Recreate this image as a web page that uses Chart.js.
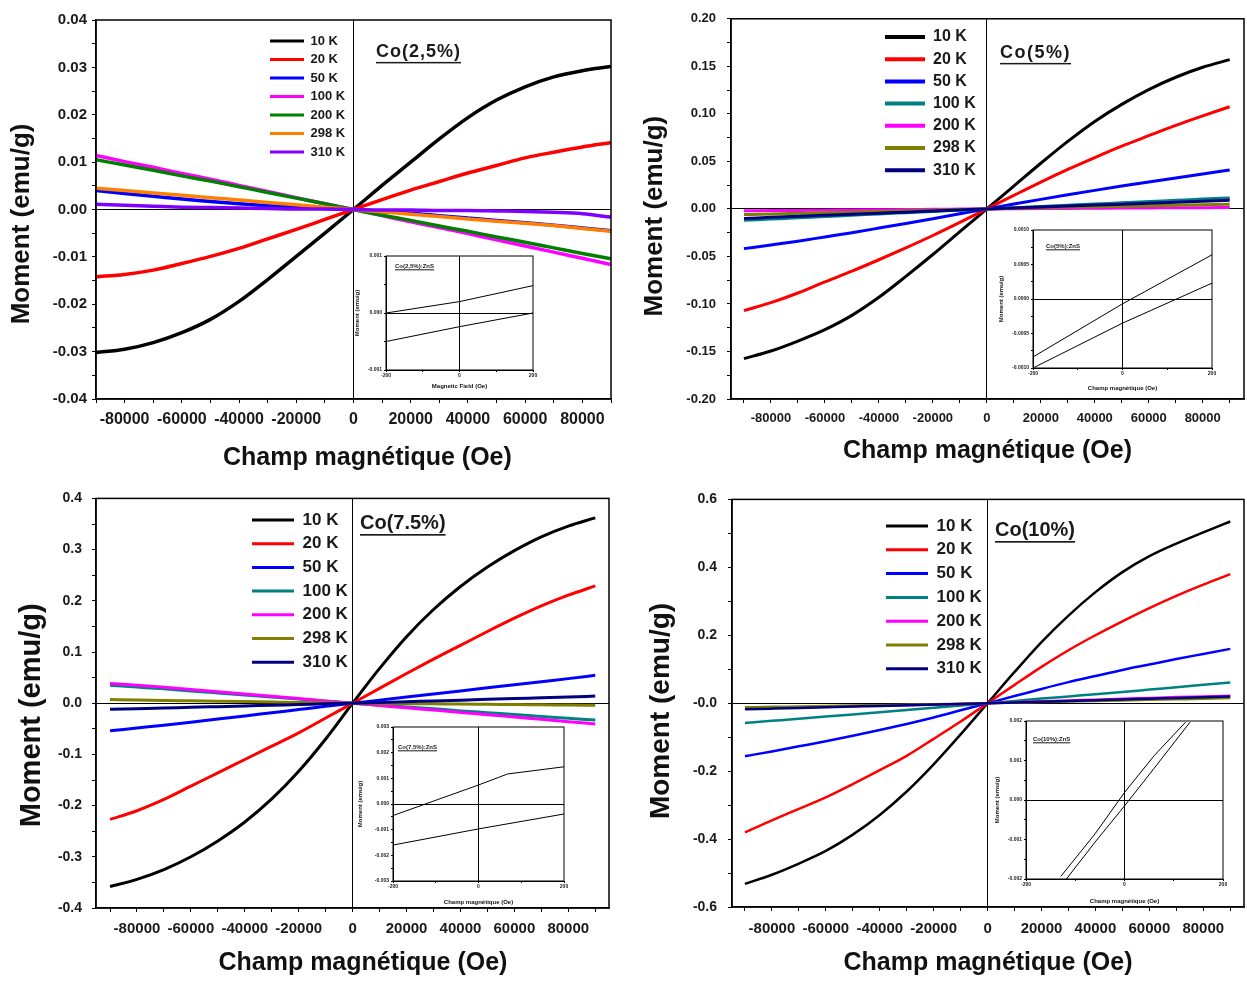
<!DOCTYPE html>
<html>
<head>
<meta charset="utf-8">
<title>Moment vs champ magnétique</title>
<script src="https://cdn.jsdelivr.net/npm/chart.js@4.4.1/dist/chart.umd.min.js"></script>
<style>
  body { margin: 0; background: #fff; }
  #fig { position: relative; width: 1247px; height: 981px; overflow: hidden; background: #fff; }
  #fig canvas { position: absolute; }
</style>
</head>
<body>
<div id="fig">
  <canvas id="p1" width="622" height="480" style="left:0;top:0"></canvas>
  <canvas id="p2" width="625" height="480" style="left:622px;top:0"></canvas>
  <canvas id="p3" width="622" height="501" style="left:0;top:480px"></canvas>
  <canvas id="p4" width="625" height="501" style="left:622px;top:480px"></canvas>
  <canvas id="i1" width="200" height="148" style="left:345px;top:248px"></canvas>
  <canvas id="i2" width="225" height="172" style="left:995px;top:224px"></canvas>
  <canvas id="i3" width="220" height="190" style="left:352px;top:720px"></canvas>
  <canvas id="i4" width="240" height="195" style="left:990px;top:715px"></canvas>
</div>
<script>
// field values where the curves were read (Oe)
const field = [-90000, -80000, -70000, -60000, -50000, -40000, -30000, -20000, -10000, 0,
  10000, 20000, 30000, 40000, 50000, 60000, 70000, 80000, 90000];
const temps = ['10 K', '20 K', '50 K', '100 K', '200 K', '298 K', '310 K'];

// Co(2,5%) : moment (emu/g), one row per temperature
const co25 = [
  [-0.0302, -0.0295, -0.0281, -0.0260, -0.0232, -0.0194, -0.0148, -0.0099, -0.0050, 0, 0.0051, 0.0100, 0.0149, 0.0194, 0.0231, 0.0259, 0.0280, 0.0293, 0.0302],
  [-0.0142, -0.0137, -0.0128, -0.0114, -0.0099, -0.0082, -0.0062, -0.0042, -0.0021, 0, 0.0021, 0.0041, 0.0059, 0.0077, 0.0093, 0.0109, 0.0121, 0.0132, 0.0141],
  [0.0040, 0.0034, 0.0028, 0.0022, 0.0017, 0.0012, 0.0008, 0.0005, 0.0002, 0, -0.0004, -0.0008, -0.0013, -0.0018, -0.0023, -0.0028, -0.0033, -0.0039, -0.0045],
  [0.0114, 0.0101, 0.0089, 0.0076, 0.0064, 0.0051, 0.0038, 0.0025, 0.0012, 0, -0.0013, -0.0026, -0.0038, -0.0051, -0.0064, -0.0077, -0.0090, -0.0103, -0.0116],
  [0.0105, 0.0094, 0.0083, 0.0071, 0.0060, 0.0048, 0.0036, 0.0024, 0.0012, 0, -0.0012, -0.0023, -0.0035, -0.0046, -0.0058, -0.0069, -0.0081, -0.0093, -0.0104],
  [0.0045, 0.0040, 0.0035, 0.0030, 0.0025, 0.0020, 0.0015, 0.0010, 0.0005, 0, -0.0005, -0.0010, -0.0015, -0.0020, -0.0025, -0.0029, -0.0034, -0.0040, -0.0046],
  [0.0011, 0.0009, 0.0007, 0.0005, 0.0004, 0.0003, 0.0002, 0.0001, 0.0001, 0, -0.0001, -0.0001, -0.0002, -0.0002, -0.0003, -0.0004, -0.0006, -0.0009, -0.0016]
];
// Co(5%)
const co5 = [
  [-0.1575, -0.1495, -0.1390, -0.1270, -0.1120, -0.0930, -0.0710, -0.0480, -0.0240, 0, 0.0240, 0.0480, 0.0710, 0.0920, 0.1100, 0.1255, 0.1385, 0.1490, 0.1570],
  [-0.1070, -0.0986, -0.0885, -0.0768, -0.0655, -0.0535, -0.0410, -0.0280, -0.0142, 0, 0.0142, 0.0282, 0.0415, 0.0540, 0.0660, 0.0770, 0.0878, 0.0978, 0.1075],
  [-0.0418, -0.0380, -0.0340, -0.0295, -0.0250, -0.0202, -0.0153, -0.0103, -0.0052, 0, 0.0051, 0.0100, 0.0148, 0.0195, 0.0240, 0.0283, 0.0325, 0.0368, 0.0410],
  [-0.0120, -0.0107, -0.0094, -0.0080, -0.0067, -0.0053, -0.0040, -0.0027, -0.0013, 0, 0.0013, 0.0026, 0.0039, 0.0052, 0.0064, 0.0077, 0.0090, 0.0103, 0.0115],
  [-0.0020, -0.0018, -0.0016, -0.0013, -0.0011, -0.0009, -0.0007, -0.0004, -0.0002, 0, 0.0002, 0.0004, 0.0005, 0.0007, 0.0009, 0.0010, 0.0012, 0.0013, 0.0015],
  [-0.0060, -0.0054, -0.0047, -0.0040, -0.0034, -0.0027, -0.0020, -0.0013, -0.0007, 0, 0.0006, 0.0011, 0.0017, 0.0022, 0.0028, 0.0033, 0.0038, 0.0043, 0.0048],
  [-0.0100, -0.0089, -0.0078, -0.0067, -0.0056, -0.0045, -0.0034, -0.0022, -0.0011, 0, 0.0010, 0.0020, 0.0030, 0.0040, 0.0050, 0.0060, 0.0070, 0.0080, 0.0090]
];
// Co(7.5%)
const co75 = [
  [-0.3580, -0.3440, -0.3250, -0.3000, -0.2690, -0.2320, -0.1870, -0.1330, -0.0700, 0, 0.0680, 0.1300, 0.1830, 0.2280, 0.2660, 0.2980, 0.3250, 0.3460, 0.3620],
  [-0.2270, -0.2100, -0.1880, -0.1620, -0.1360, -0.1100, -0.0840, -0.0580, -0.0290, 0, 0.0290, 0.0580, 0.0860, 0.1130, 0.1400, 0.1660, 0.1900, 0.2110, 0.2290],
  [-0.0540, -0.0485, -0.0430, -0.0370, -0.0310, -0.0250, -0.0185, -0.0125, -0.0060, 0, 0.0060, 0.0120, 0.0180, 0.0240, 0.0300, 0.0360, 0.0420, 0.0480, 0.0545],
  [0.0350, 0.0315, 0.0280, 0.0240, 0.0200, 0.0160, 0.0120, 0.0080, 0.0040, 0, -0.0038, -0.0075, -0.0110, -0.0150, -0.0185, -0.0220, -0.0260, -0.0295, -0.0330],
  [0.0385, 0.0350, 0.0310, 0.0268, 0.0224, 0.0180, 0.0135, 0.0090, 0.0045, 0, -0.0045, -0.0090, -0.0135, -0.0180, -0.0225, -0.0270, -0.0315, -0.0360, -0.0405],
  [0.0070, 0.0062, 0.0055, 0.0047, 0.0039, 0.0031, 0.0023, 0.0015, 0.0008, 0, -0.0004, -0.0009, -0.0013, -0.0018, -0.0022, -0.0027, -0.0031, -0.0036, -0.0040],
  [-0.0120, -0.0107, -0.0094, -0.0080, -0.0067, -0.0054, -0.0040, -0.0027, -0.0013, 0, 0.0015, 0.0030, 0.0045, 0.0060, 0.0075, 0.0090, 0.0105, 0.0120, 0.0140]
];
// Co(10%)
const co10 = [
  [-0.5320, -0.5050, -0.4720, -0.4350, -0.3870, -0.3290, -0.2600, -0.1800, -0.0920, 0, 0.0920, 0.1800, 0.2580, 0.3270, 0.3860, 0.4330, 0.4700, 0.5030, 0.5350],
  [-0.3800, -0.3450, -0.3110, -0.2770, -0.2380, -0.1970, -0.1550, -0.1050, -0.0540, 0, 0.0540, 0.1070, 0.1560, 0.2000, 0.2410, 0.2800, 0.3160, 0.3490, 0.3800],
  [-0.1560, -0.1420, -0.1270, -0.1120, -0.0960, -0.0790, -0.0610, -0.0420, -0.0210, 0, 0.0210, 0.0420, 0.0620, 0.0800, 0.0980, 0.1140, 0.1300, 0.1450, 0.1600],
  [-0.0580, -0.0520, -0.0460, -0.0395, -0.0330, -0.0265, -0.0200, -0.0135, -0.0068, 0, 0.0068, 0.0135, 0.0200, 0.0265, 0.0330, 0.0400, 0.0470, 0.0540, 0.0610],
  [-0.0150, -0.0135, -0.0120, -0.0105, -0.0090, -0.0075, -0.0060, -0.0045, -0.0025, 0, 0.0030, 0.0055, 0.0080, 0.0105, 0.0130, 0.0155, 0.0180, 0.0200, 0.0220],
  [-0.0120, -0.0108, -0.0095, -0.0083, -0.0070, -0.0058, -0.0045, -0.0032, -0.0016, 0, 0.0017, 0.0034, 0.0050, 0.0066, 0.0082, 0.0098, 0.0114, 0.0130, 0.0150],
  [-0.0180, -0.0160, -0.0140, -0.0120, -0.0100, -0.0080, -0.0060, -0.0040, -0.0020, 0, 0.0022, 0.0044, 0.0066, 0.0088, 0.0110, 0.0132, 0.0154, 0.0176, 0.0200]
];

// insets: the two branches of each loop near zero field
const in25Field = [-200, 0, 200];
const in25Upper = [0.0000, 0.00020, 0.00048];
const in25Lower = [-0.00050, -0.00024, 0.0000];
const in5Field = [-200, 0, 200];
const in5Upper = [-0.00084, -0.00007, 0.00064];
const in5Lower = [-0.00100, -0.00035, 0.00023];
const in75UpperField = [-200, 0, 68, 200];
const in75Upper = [-0.00045, 0.00074, 0.00117, 0.00145];
const in75LowerField = [-200, 0, 200];
const in75Lower = [-0.00160, -0.00097, -0.00039];
const in10UpperField = [-129, -60, 0, 60, 124];
const in10Upper = [-0.00193, -0.00086, 0.00019, 0.00112, 0.00197];
const in10LowerField = [-118, -60, 0, 60, 133];
const in10Lower = [-0.00200, -0.00107, -0.00015, 0.00080, 0.00197];

// tick labels
const xTicks = [-80000, -60000, -40000, -20000, 0, 20000, 40000, 60000, 80000];
const yTicks25 = [-0.04, -0.03, -0.02, -0.01, 0, 0.01, 0.02, 0.03, 0.04];
const yTicks5 = [-0.20, -0.15, -0.10, -0.05, 0, 0.05, 0.10, 0.15, 0.20];
const yTicks75 = [-0.4, -0.3, -0.2, -0.1, 0, 0.1, 0.2, 0.3, 0.4];
const yTicks10 = [-0.6, -0.4, -0.2, 0, 0.2, 0.4, 0.6];
const insetXTicks = [-200, 0, 200];
const insetY25 = [-0.001, 0, 0.001];
const insetY5 = [-0.0010, -0.0005, 0, 0.0005, 0.0010];
const insetY75 = [-0.003, -0.002, -0.001, 0, 0.001, 0.002, 0.003];
const insetY10 = [-0.002, -0.001, 0, 0.001, 0.002];

const colorsA = ['#000000', '#ff0000', '#0000ff', '#ff00ff', '#008000', '#ff8000', '#8000ff'];
const colorsB = ['#000000', '#ff0000', '#0000ff', '#008080', '#ff00ff', '#808000', '#000080'];

const FONT = 'Arial, "Liberation Sans", sans-serif';
Chart.defaults.font.family = FONT;
Chart.defaults.color = '#1a1a1a';

// box round the plot area
const framePlugin = {
  id: 'frame',
  afterDatasetsDraw(chart, args, o) {
    const a = chart.chartArea, c = chart.ctx;
    c.save();
    c.strokeStyle = '#000';
    c.lineWidth = o.width || 1.5;
    c.strokeRect(a.left, a.top, a.right - a.left, a.bottom - a.top);
    c.restore();
  }
};

// underlined sample name
const tagPlugin = {
  id: 'tag',
  afterDraw(chart, args, o) {
    if (!o.text) return;
    const c = chart.ctx;
    c.save();
    c.font = 'bold ' + o.size + 'px ' + FONT;
    c.letterSpacing = (o.spacing || 0) + 'px';
    c.fillStyle = '#1a1a1a';
    c.textBaseline = 'middle';
    c.fillText(o.text, o.x, o.y);
    const w = c.measureText(o.text).width;
    c.fillRect(o.x, o.y + o.size * 0.55, w, Math.max(1, o.size / 12));
    c.restore();
  }
};

// move the legend block inside the plot
const legendSpot = {
  id: 'legendSpot',
  beforeDraw(chart, args, o) {
    const lg = chart.legend;
    if (!lg || o.x === undefined) return;
    lg.left = o.x;
    lg.top = o.y;
    lg.right = chart.width;
    lg.bottom = chart.height;
  }
};

function withMinors(major, lo, hi) {
  const half = (major[1] - major[0]) / 2;
  const out = [];
  for (let k = -1; k <= (major.length - 1) * 2 + 1; k++) {
    const v = +(major[0] + k * half).toPrecision(10);
    if (v >= lo - 1e-12 && v <= hi + 1e-12) out.push(v);
  }
  return out;
}

// pad a title with no-break spaces to nudge it off the axis centre
function nudge(text, before, after) {
  return '\u00a0'.repeat(before) + text + '\u00a0'.repeat(after);
}

function axis(o) {
  const left = o.pos === 'left';
  return {
    type: 'linear', position: o.pos, min: o.min, max: o.max,
    afterBuildTicks: s => { s.ticks = withMinors(o.ticks, o.min, o.max).map(v => ({value: v})); },
    afterFit: s => { if (left) s.width = o.size; else s.height = o.size; },
    ticks: {
      autoSkip: false, maxRotation: 0, padding: o.pad, color: '#1a1a1a',
      font: {size: o.font, weight: 'bold'},
      callback: v => o.ticks.some(t => Math.abs(t - v) < 1e-9) ? o.fmt(v) : ''
    },
    grid: {
      color: c => (c.tick && Math.abs(c.tick.value) < 1e-12) ? '#000' : 'rgba(0,0,0,0)',
      tickColor: '#000', tickLength: o.tickLen, lineWidth: o.gridW || 1
    },
    border: {display: true, color: '#000', width: o.bw},
    title: {
      display: true, text: o.title, color: '#111',
      font: {size: o.tsize, weight: 'bold'},
      padding: left ? {top: o.tpad, bottom: 0} : {top: 0, bottom: o.tpad}
    }
  };
}

function drawPanel(id, p) {
  const datasets = temps.map((t, i) => ({
    label: t,
    data: field.map((h, j) => ({x: h, y: p.moment[i][j]})),
    borderColor: p.colors[i], backgroundColor: p.colors[i],
    borderWidth: p.line, pointRadius: 0, cubicInterpolationMode: 'monotone',
    order: temps.length - i
  }));
  new Chart(document.getElementById(id), {
    type: 'line',
    data: {datasets},
    options: {
      responsive: false, animation: false, devicePixelRatio: 1, events: [],
      layout: {padding: {left: 0, top: p.top, right: p.right, bottom: 0}},
      scales: {
        x: axis({pos: 'bottom', min: p.xMin, max: p.xMax, ticks: xTicks, size: p.xHeight,
          pad: p.xPad, font: p.xFont, tickLen: 4, bw: 1.5, fmt: v => String(Math.round(v)),
          title: nudge('Champ magnétique (Oe)', p.xShift, 0), tsize: 25, tpad: p.xTitlePad}),
        y: axis({pos: 'left', min: p.yMin, max: p.yMax, ticks: p.yTicks, size: p.yWidth,
          pad: p.yPad, font: p.yFont, tickLen: 4, bw: 1.5, fmt: v => v.toFixed(p.yDigits),
          title: nudge('Moment (emu/g)', 0, p.yShift), tsize: p.yTitle, tpad: p.yTitlePad})
      },
      plugins: {
        tooltip: {enabled: false},
        legend: {
          position: 'chartArea', align: 'start',
          labels: {
            boxWidth: p.legend.box, boxHeight: p.legend.boxH, padding: p.legend.pad,
            color: '#1a1a1a', font: {size: p.legend.font, weight: 'bold'},
            generateLabels: chart => Chart.defaults.plugins.legend.labels.generateLabels(chart)
              .map(l => Object.assign(l, {lineWidth: 0}))
              .sort((a, b) => a.datasetIndex - b.datasetIndex)
          }
        },
        legendSpot: {x: p.legend.x, y: p.legend.y},
        frame: {width: 1.5},
        tag: p.tag
      }
    },
    plugins: [framePlugin, tagPlugin, legendSpot]
  });
}

function drawInset(id, p) {
  const datasets = p.branches.map(b => ({
    label: b.name,
    data: b.field.map((h, j) => ({x: h, y: b.moment[j]})),
    borderColor: '#000', borderWidth: 1, pointRadius: 0, tension: 0
  }));
  new Chart(document.getElementById(id), {
    type: 'line',
    data: {datasets},
    options: {
      responsive: false, animation: false, devicePixelRatio: 1, events: [],
      layout: {padding: {left: 0, top: p.top, right: p.right, bottom: 0}},
      scales: {
        x: axis({pos: 'bottom', min: -200, max: 200, ticks: insetXTicks, size: p.xHeight,
          pad: 1, font: 5, tickLen: 2, bw: 1, fmt: v => String(Math.round(v)),
          title: p.xTitle, tsize: 6, tpad: p.xTitlePad}),
        y: axis({pos: 'left', min: p.yTicks[0], max: p.yTicks[p.yTicks.length - 1], ticks: p.yTicks,
          size: p.yWidth, pad: 2, font: 5, tickLen: 2, bw: 1, fmt: v => v.toFixed(p.yDigits),
          title: 'Moment (emu/g)', tsize: 6, tpad: p.yTitlePad})
      },
      plugins: {
        tooltip: {enabled: false},
        legend: {display: false},
        frame: {width: 1},
        tag: p.tag
      }
    },
    plugins: [framePlugin, tagPlugin]
  });
}

drawPanel('p1', {
  moment: co25, colors: colorsA, line: 3.5,
  xMin: -90000, xMax: 90000, yMin: -0.04, yMax: 0.04, yTicks: yTicks25, yDigits: 2,
  yWidth: 96, xHeight: 81, top: 20, right: 11,
  yFont: 15, xFont: 16, yPad: 5, xPad: 7,
  yTitle: 26, yTitlePad: 6, yShift: 4, xShift: 4, xTitlePad: 7,
  legend: {x: 264.5, y: 29, font: 13, box: 34, boxH: 3, pad: 5.5},
  tag: {text: 'Co(2,5%)', x: 376, y: 52, size: 18, spacing: 1}
});
drawPanel('p2', {
  moment: co5, colors: colorsB, line: 3,
  xMin: -94800, xMax: 95300, yMin: -0.20, yMax: 0.20, yTicks: yTicks5, yDigits: 2,
  yWidth: 109, xHeight: 81, top: 18, right: 3,
  yFont: 13, xFont: 13, yPad: 11, xPad: 8,
  yTitle: 26, yTitlePad: 17, yShift: 2, xShift: 0, xTitlePad: 14,
  legend: {x: 256.8, y: 22.8, font: 16, box: 40, boxH: 4, pad: 6.2},
  tag: {text: 'Co(5%)', x: 378, y: 53, size: 18, spacing: 1.5}
});
drawPanel('p3', {
  moment: co75, colors: colorsB, line: 3,
  xMin: -95200, xMax: 95100, yMin: -0.4, yMax: 0.4, yTicks: yTicks75, yDigits: 1,
  yWidth: 96, xHeight: 73, top: 16, right: 13,
  yFont: 14, xFont: 15, yPad: 10, xPad: 8,
  yTitle: 29, yTitlePad: 15, yShift: 3, xShift: 3, xTitlePad: 3,
  legend: {x: 245.3, y: 24.8, font: 17, box: 42, boxH: 3, pad: 6.7},
  tag: {text: 'Co(7.5%)', x: 360, y: 43, size: 20, spacing: 0}
});
drawPanel('p4', {
  moment: co10, colors: colorsB, line: 2.5,
  xMin: -94800, xMax: 95100, yMin: -0.6, yMax: 0.6, yTicks: yTicks10, yDigits: 1,
  yWidth: 110, xHeight: 74, top: 16, right: 3,
  yFont: 14, xFont: 15, yPad: 11, xPad: 9,
  yTitle: 28, yTitlePad: 22, yShift: 2, xShift: 0, xTitlePad: 3,
  legend: {x: 257.2, y: 30.7, font: 17, box: 42, boxH: 3, pad: 6.8},
  tag: {text: 'Co(10%)', x: 373, y: 50, size: 20, spacing: 0}
});

drawInset('i1', {
  branches: [{name: 'up', field: in25Field, moment: in25Upper}, {name: 'down', field: in25Field, moment: in25Lower}],
  yTicks: insetY25, yDigits: 3, yWidth: 41, xHeight: 26, top: 8, right: 12,
  xTitle: 'Magnetic Field (Oe)', xTitlePad: 6.4, yTitlePad: 8.4,
  tag: {text: 'Co(2,5%):ZnS', x: 50, y: 18, size: 6, spacing: 0}
});
drawInset('i2', {
  branches: [{name: 'up', field: in5Field, moment: in5Upper}, {name: 'down', field: in5Field, moment: in5Lower}],
  yTicks: insetY5, yDigits: 4, yWidth: 38, xHeight: 28, top: 6, right: 8,
  xTitle: 'Champ magnétique (Oe)', xTitlePad: 4.4, yTitlePad: 2.4,
  tag: {text: 'Co(5%):ZnS', x: 51, y: 22, size: 6, spacing: 0}
});
drawInset('i3', {
  branches: [{name: 'up', field: in75UpperField, moment: in75Upper}, {name: 'down', field: in75LowerField, moment: in75Lower}],
  yTicks: insetY75, yDigits: 3, yWidth: 41, xHeight: 29, top: 7, right: 8,
  xTitle: 'Champ magnétique (Oe)', xTitlePad: 4.4, yTitlePad: 4.4,
  tag: {text: 'Co(7.5%):ZnS', x: 46, y: 27, size: 6, spacing: 0}
});
drawInset('i4', {
  branches: [{name: 'up', field: in10UpperField, moment: in10Upper}, {name: 'down', field: in10LowerField, moment: in10Lower}],
  yTicks: insetY10, yDigits: 3, yWidth: 36, xHeight: 31, top: 6, right: 7,
  xTitle: 'Champ magnétique (Oe)', xTitlePad: 5.4, yTitlePad: 3.4,
  tag: {text: 'Co(10%):ZnS', x: 43, y: 24, size: 6, spacing: 0}
});
</script>
</body>
</html>
